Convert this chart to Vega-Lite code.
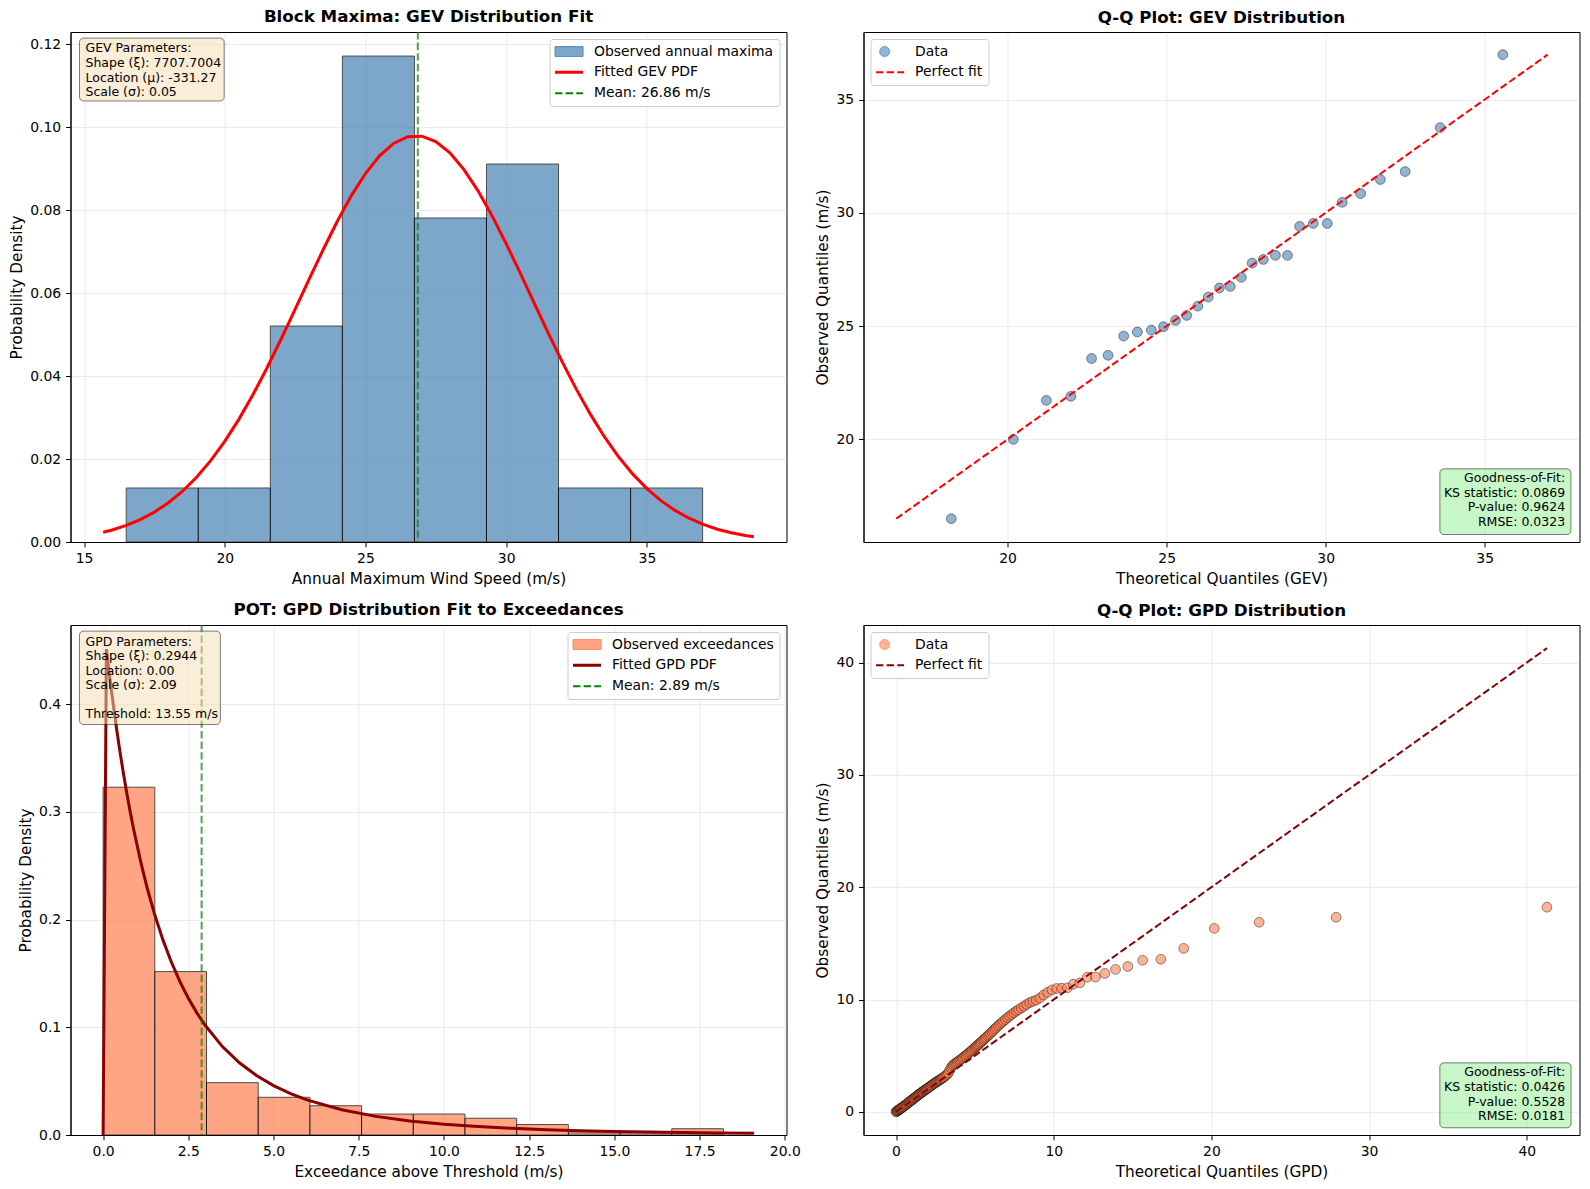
{
  "$schema": "https://vega.github.io/schema/vega-lite/v6.json",
  "background": "white",
  "padding": {"left": 8.5, "top": 8, "right": 5, "bottom": 5},
  "config": {
    "font": "DejaVu Sans",
    "view": {"stroke": "black", "strokeWidth": 1},
    "axis": {
      "labelFont": "DejaVu Sans", "labelFontSize": 13.9, "labelColor": "black",
      "titleFont": "DejaVu Sans", "titleFontSize": 15.3, "titleFontWeight": "normal", "titleColor": "black",
      "domainColor": "black", "tickColor": "black", "tickSize": 4.9, "labelPadding": 4.9, "titlePadding": 5.6,
      "gridColor": "#b0b0b0", "gridOpacity": 0.3, "gridWidth": 0.8, "labelFlush": false, "labelOverlap": false
    },
    "title": {"font": "DejaVu Sans", "fontSize": 16.7, "fontWeight": "bold", "color": "black", "offset": 5.3, "anchor": "middle"},
    "legend": {
      "labelFont": "DejaVu Sans", "labelFontSize": 13.9, "labelColor": "black", "padding": 5.6, "offset": 7,
      "fillColor": "white", "strokeColor": "#cccccc", "cornerRadius": 3, "symbolSize": 196, "rowPadding": 5.8,
      "labelOffset": 25, "labelLimit": 400
    }
  },
  "datasets": {
    "gevHist": [
      {"x0": 16.50, "x1": 19.06, "density": 0.01302},
      {"x0": 19.06, "x1": 21.62, "density": 0.01302},
      {"x0": 21.62, "x1": 24.18, "density": 0.05208},
      {"x0": 24.18, "x1": 26.74, "density": 0.11719},
      {"x0": 26.74, "x1": 29.30, "density": 0.07813},
      {"x0": 29.30, "x1": 31.86, "density": 0.09115},
      {"x0": 31.86, "x1": 34.42, "density": 0.01302},
      {"x0": 34.42, "x1": 36.98, "density": 0.01302}
    ],
    "gevPdf": [
      {"x": 15.68, "density": 0.00235}, {"x": 16.0, "density": 0.00290}, {"x": 16.5, "density": 0.00399},
      {"x": 17.0, "density": 0.00540}, {"x": 17.5, "density": 0.00720}, {"x": 18.0, "density": 0.00947},
      {"x": 18.5, "density": 0.01225}, {"x": 19.0, "density": 0.01562}, {"x": 19.5, "density": 0.01962},
      {"x": 20.0, "density": 0.02427}, {"x": 20.5, "density": 0.02958}, {"x": 21.0, "density": 0.03550},
      {"x": 21.5, "density": 0.04197}, {"x": 22.0, "density": 0.04889}, {"x": 22.5, "density": 0.05609},
      {"x": 23.0, "density": 0.06338}, {"x": 23.5, "density": 0.07054}, {"x": 24.0, "density": 0.07735},
      {"x": 24.5, "density": 0.08354}, {"x": 25.0, "density": 0.08887}, {"x": 25.5, "density": 0.09313},
      {"x": 26.0, "density": 0.09613}, {"x": 26.5, "density": 0.09774}, {"x": 27.0, "density": 0.09788},
      {"x": 27.5, "density": 0.09656}, {"x": 28.0, "density": 0.09384}, {"x": 28.5, "density": 0.08982},
      {"x": 29.0, "density": 0.08468}, {"x": 29.5, "density": 0.07865}, {"x": 30.0, "density": 0.07194},
      {"x": 30.5, "density": 0.06483}, {"x": 31.0, "density": 0.05755}, {"x": 31.5, "density": 0.05031},
      {"x": 32.0, "density": 0.04333}, {"x": 32.5, "density": 0.03675}, {"x": 33.0, "density": 0.03071},
      {"x": 33.5, "density": 0.02528}, {"x": 34.0, "density": 0.02049}, {"x": 34.5, "density": 0.01637},
      {"x": 35.0, "density": 0.01288}, {"x": 35.5, "density": 0.00998}, {"x": 36.0, "density": 0.00762},
      {"x": 36.5, "density": 0.00573}, {"x": 37.0, "density": 0.00424}, {"x": 37.5, "density": 0.00309},
      {"x": 38.0, "density": 0.00222}, {"x": 38.5, "density": 0.00157}, {"x": 38.8, "density": 0.00127}
    ],
    "gevMean": [{"mean": 26.86}],
    "gevQQ": [
      {"t": 18.23, "o": 16.50}, {"t": 20.18, "o": 20.00}, {"t": 21.22, "o": 21.72}, {"t": 21.99, "o": 21.90},
      {"t": 22.64, "o": 23.57}, {"t": 23.16, "o": 23.71}, {"t": 23.65, "o": 24.56}, {"t": 24.08, "o": 24.74},
      {"t": 24.52, "o": 24.82}, {"t": 24.90, "o": 24.97}, {"t": 25.28, "o": 25.25}, {"t": 25.63, "o": 25.47},
      {"t": 25.98, "o": 25.88}, {"t": 26.31, "o": 26.28}, {"t": 26.66, "o": 26.68}, {"t": 27.00, "o": 26.75},
      {"t": 27.35, "o": 27.15}, {"t": 27.69, "o": 27.78}, {"t": 28.04, "o": 27.94}, {"t": 28.42, "o": 28.12},
      {"t": 28.80, "o": 28.12}, {"t": 29.18, "o": 29.40}, {"t": 29.61, "o": 29.53}, {"t": 30.05, "o": 29.53},
      {"t": 30.52, "o": 30.46}, {"t": 31.10, "o": 30.85}, {"t": 31.72, "o": 31.47}, {"t": 32.50, "o": 31.82},
      {"t": 33.60, "o": 33.76}, {"t": 35.57, "o": 36.98}
    ],
    "gevLine": [{"v": 16.50}, {"v": 36.98}],
    "gpdHist": [
      {"x0": 0.0, "x1": 1.5167, "density": 0.3229},
      {"x0": 1.5167, "x1": 3.0333, "density": 0.1517},
      {"x0": 3.0333, "x1": 4.55, "density": 0.0486},
      {"x0": 4.55, "x1": 6.0667, "density": 0.0350},
      {"x0": 6.0667, "x1": 7.5833, "density": 0.0272},
      {"x0": 7.5833, "x1": 9.1, "density": 0.01945},
      {"x0": 9.1, "x1": 10.6167, "density": 0.01945},
      {"x0": 10.6167, "x1": 12.1333, "density": 0.01556},
      {"x0": 12.1333, "x1": 13.65, "density": 0.00973},
      {"x0": 13.65, "x1": 15.1667, "density": 0.00194},
      {"x0": 15.1667, "x1": 16.6833, "density": 0.00194},
      {"x0": 16.6833, "x1": 18.2, "density": 0.00584}
    ],
    "gpdPdf": [
      {"x": 0.0, "density": 0.0}, {"x": 0.096, "density": 0.4511}, {"x": 0.15, "density": 0.4365},
      {"x": 0.2, "density": 0.4235}, {"x": 0.3, "density": 0.3989}, {"x": 0.4, "density": 0.3760},
      {"x": 0.5, "density": 0.3548}, {"x": 0.6, "density": 0.3349}, {"x": 0.7, "density": 0.3164},
      {"x": 0.8, "density": 0.2992}, {"x": 0.9, "density": 0.2831}, {"x": 1.1, "density": 0.2540},
      {"x": 1.3, "density": 0.2284}, {"x": 1.5, "density": 0.2060}, {"x": 1.75, "density": 0.1816},
      {"x": 2.0, "density": 0.1607}, {"x": 2.25, "density": 0.1426}, {"x": 2.5, "density": 0.1270},
      {"x": 2.75, "density": 0.1134}, {"x": 3.0, "density": 0.1016}, {"x": 3.5, "density": 0.0821},
      {"x": 4.0, "density": 0.0671}, {"x": 4.5, "density": 0.0552}, {"x": 5.0, "density": 0.0459},
      {"x": 5.5, "density": 0.0384}, {"x": 6.0, "density": 0.0324}, {"x": 7.0, "density": 0.0234},
      {"x": 8.0, "density": 0.0173}, {"x": 9.0, "density": 0.0131}, {"x": 10.0, "density": 0.01003},
      {"x": 11.0, "density": 0.00781}, {"x": 12.0, "density": 0.00617}, {"x": 13.0, "density": 0.00493},
      {"x": 14.0, "density": 0.00398}, {"x": 15.0, "density": 0.00325}, {"x": 16.0, "density": 0.00267},
      {"x": 17.0, "density": 0.00222}, {"x": 18.0, "density": 0.00186}, {"x": 19.1, "density": 0.00154}
    ],
    "gpdMean": [{"mean": 2.89}],
    "gpdQQ": [
      {"t": 0.004, "o": 0.0}, {"t": 0.03, "o": 0.03}, {"t": 0.06, "o": 0.06}, {"t": 0.09, "o": 0.09},
      {"t": 0.12, "o": 0.12}, {"t": 0.15, "o": 0.15}, {"t": 0.18, "o": 0.18}, {"t": 0.21, "o": 0.21},
      {"t": 0.24, "o": 0.24}, {"t": 0.27, "o": 0.27}, {"t": 0.30, "o": 0.30}, {"t": 0.33, "o": 0.33},
      {"t": 0.36, "o": 0.36}, {"t": 0.40, "o": 0.40}, {"t": 0.44, "o": 0.44}, {"t": 0.48, "o": 0.48},
      {"t": 0.52, "o": 0.52}, {"t": 0.56, "o": 0.566}, {"t": 0.60, "o": 0.61}, {"t": 0.64, "o": 0.654},
      {"t": 0.68, "o": 0.698}, {"t": 0.72, "o": 0.742}, {"t": 0.76, "o": 0.786}, {"t": 0.80, "o": 0.83},
      {"t": 0.84, "o": 0.874}, {"t": 0.88, "o": 0.918}, {"t": 0.92, "o": 0.962}, {"t": 0.96, "o": 1.006},
      {"t": 1.00, "o": 1.05},
      {"t": 1.04, "o": 1.094}, {"t": 1.08, "o": 1.138}, {"t": 1.12, "o": 1.182}, {"t": 1.16, "o": 1.226},
      {"t": 1.20, "o": 1.27}, {"t": 1.24, "o": 1.314}, {"t": 1.28, "o": 1.358}, {"t": 1.32, "o": 1.402},
      {"t": 1.36, "o": 1.446}, {"t": 1.40, "o": 1.49}, {"t": 1.44, "o": 1.534}, {"t": 1.48, "o": 1.578},
      {"t": 1.52, "o": 1.62}, {"t": 1.56, "o": 1.66}, {"t": 1.60, "o": 1.70}, {"t": 1.64, "o": 1.74},
      {"t": 1.68, "o": 1.78}, {"t": 1.72, "o": 1.82}, {"t": 1.76, "o": 1.86}, {"t": 1.80, "o": 1.90},
      {"t": 1.84, "o": 1.94}, {"t": 1.88, "o": 1.98}, {"t": 1.92, "o": 2.02}, {"t": 1.96, "o": 2.06},
      {"t": 2.00, "o": 2.10},
      {"t": 2.05, "o": 2.15}, {"t": 2.10, "o": 2.20}, {"t": 2.15, "o": 2.25}, {"t": 2.20, "o": 2.30},
      {"t": 2.25, "o": 2.35}, {"t": 2.30, "o": 2.40}, {"t": 2.35, "o": 2.45}, {"t": 2.40, "o": 2.50},
      {"t": 2.45, "o": 2.55}, {"t": 2.50, "o": 2.60}, {"t": 2.55, "o": 2.645}, {"t": 2.60, "o": 2.69},
      {"t": 2.65, "o": 2.735}, {"t": 2.70, "o": 2.78}, {"t": 2.75, "o": 2.825}, {"t": 2.80, "o": 2.87},
      {"t": 2.85, "o": 2.915}, {"t": 2.90, "o": 2.96}, {"t": 2.95, "o": 3.005}, {"t": 3.00, "o": 3.05},
      {"t": 3.08, "o": 3.143}, {"t": 3.16, "o": 3.237}, {"t": 3.24, "o": 3.33}, {"t": 3.32, "o": 3.46},
      {"t": 3.40, "o": 3.70}, {"t": 3.48, "o": 3.91}, {"t": 3.56, "o": 4.07}, {"t": 3.64, "o": 4.19},
      {"t": 3.72, "o": 4.27}, {"t": 3.80, "o": 4.35}, {"t": 3.88, "o": 4.43}, {"t": 3.96, "o": 4.51},
      {"t": 4.04, "o": 4.594}, {"t": 4.12, "o": 4.682}, {"t": 4.20, "o": 4.77}, {"t": 4.28, "o": 4.858},
      {"t": 4.36, "o": 4.946}, {"t": 4.44, "o": 5.034}, {"t": 4.52, "o": 5.124}, {"t": 4.60, "o": 5.22},
      {"t": 4.68, "o": 5.316}, {"t": 4.76, "o": 5.412}, {"t": 4.84, "o": 5.508}, {"t": 4.92, "o": 5.604},
      {"t": 5.00, "o": 5.70}, {"t": 5.06, "o": 5.78}, {"t": 5.13, "o": 5.87}, {"t": 5.19, "o": 5.95},
      {"t": 5.26, "o": 6.04}, {"t": 5.34, "o": 6.14}, {"t": 5.41, "o": 6.23}, {"t": 5.49, "o": 6.34},
      {"t": 5.56, "o": 6.43}, {"t": 5.64, "o": 6.53}, {"t": 5.72, "o": 6.64}, {"t": 5.81, "o": 6.75},
      {"t": 5.89, "o": 6.86}, {"t": 5.98, "o": 6.97}, {"t": 6.08, "o": 7.11}, {"t": 6.17, "o": 7.24},
      {"t": 6.27, "o": 7.38}, {"t": 6.37, "o": 7.52}, {"t": 6.48, "o": 7.67}, {"t": 6.58, "o": 7.80},
      {"t": 6.70, "o": 7.94}, {"t": 6.81, "o": 8.07}, {"t": 6.93, "o": 8.22}, {"t": 7.06, "o": 8.37},
      {"t": 7.19, "o": 8.51}, {"t": 7.33, "o": 8.66}, {"t": 7.47, "o": 8.82}, {"t": 7.62, "o": 8.96},
      {"t": 7.77, "o": 9.09}, {"t": 7.94, "o": 9.25}, {"t": 8.11, "o": 9.40}, {"t": 8.29, "o": 9.56},
      {"t": 8.48, "o": 9.73}, {"t": 8.68, "o": 9.84}, {"t": 8.89, "o": 9.94}, {"t": 9.12, "o": 10.13},
      {"t": 9.36, "o": 10.40}, {"t": 9.61, "o": 10.64}, {"t": 9.89, "o": 10.86}, {"t": 10.19, "o": 10.98},
      {"t": 10.51, "o": 11.00}, {"t": 10.86, "o": 11.03}, {"t": 11.24, "o": 11.36}, {"t": 11.66, "o": 11.48},
      {"t": 12.12, "o": 11.98}, {"t": 12.65, "o": 12.00}, {"t": 13.24, "o": 12.32}, {"t": 13.92, "o": 12.68},
      {"t": 14.70, "o": 12.94}, {"t": 15.64, "o": 13.49}, {"t": 16.79, "o": 13.58}, {"t": 18.24, "o": 14.55},
      {"t": 20.18, "o": 16.33}, {"t": 23.03, "o": 16.88}, {"t": 27.91, "o": 17.32}, {"t": 41.28, "o": 18.22}
    ],
    "gpdLine": [{"v": 0.0}, {"v": 41.28}]
  },
  "columns": 2,
  "bounds": "flush",
  "spacing": {"row": 83, "column": 77},
  "resolve": {"scale": {"color": "independent", "x": "independent", "y": "independent"}, "legend": {"color": "independent"}},
  "concat": [
    {
      "width": 716, "height": 510,
      "title": {"text": "Block Maxima: GEV Distribution Fit"},
      "layer": [
        {
          "data": {"name": "gevHist"},
          "mark": {"type": "rect", "stroke": "black", "strokeWidth": 1, "opacity": 0.7},
          "encoding": {
            "x": {"field": "x0", "type": "quantitative", "scale": {"domain": [14.52, 39.96], "nice": false, "zero": false},
                  "axis": {"title": "Annual Maximum Wind Speed (m/s)", "values": [15, 20, 25, 30, 35], "format": "d"}},
            "x2": {"field": "x1"},
            "y": {"field": "density", "type": "quantitative", "scale": {"domain": [0, 0.123], "nice": false, "zero": false},
                  "axis": {"title": "Probability Density", "values": [0, 0.02, 0.04, 0.06, 0.08, 0.1, 0.12], "format": ".2f"}},
            "y2": {"datum": 0},
            "color": {
              "datum": "Observed annual maxima", "type": "nominal",
              "scale": {"domain": ["Observed annual maxima", "Fitted GEV PDF", "Mean: 26.86 m/s"], "range": ["#4682b4", "red", "green"]},
              "legend": {
                "title": null, "orient": "top-right",
                "encode": {"symbols": {"update": {
                  "shape": {"signal": "datum.value === 'Observed annual maxima' ? 'M-1,-0.7L3,-0.7L3,0.7L-1,0.7Z' : 'M-1,0L3,0'"},
                  "fill": {"signal": "datum.value === 'Observed annual maxima' ? 'rgba(70,130,180,0.7)' : 'transparent'"},
                  "stroke": {"signal": "datum.value === 'Observed annual maxima' ? 'rgba(0,0,0,0.7)' : (datum.value === 'Fitted GEV PDF' ? 'red' : 'rgba(0,128,0,0.7)')"},
                  "fillOpacity": {"signal": "datum.value === 'Observed annual maxima' ? 0.7 : 1"},
                  "strokeWidth": {"signal": "datum.value === 'Fitted GEV PDF' ? 3 : (datum.value === 'Observed annual maxima' ? 1 : 2)"},
                  "strokeDash": {"signal": "datum.value === 'Mean: 26.86 m/s' ? [7.4, 3.2] : [1, 0]"}
                }}}
              }
            }
          }
        },
        {
          "data": {"name": "gevPdf"},
          "mark": {"type": "line", "strokeWidth": 3},
          "encoding": {
            "x": {"field": "x", "type": "quantitative"},
            "y": {"field": "density", "type": "quantitative"},
            "color": {"datum": "Fitted GEV PDF", "type": "nominal",
              "legend": {
                "title": null, "orient": "top-right",
                "encode": {"symbols": {"update": {
                  "shape": {"signal": "datum.value === 'Observed annual maxima' ? 'M-1,-0.7L3,-0.7L3,0.7L-1,0.7Z' : 'M-1,0L3,0'"},
                  "fill": {"signal": "datum.value === 'Observed annual maxima' ? 'rgba(70,130,180,0.7)' : 'transparent'"},
                  "stroke": {"signal": "datum.value === 'Observed annual maxima' ? 'rgba(0,0,0,0.7)' : (datum.value === 'Fitted GEV PDF' ? 'red' : 'rgba(0,128,0,0.7)')"},
                  "fillOpacity": {"signal": "datum.value === 'Observed annual maxima' ? 0.7 : 1"},
                  "strokeWidth": {"signal": "datum.value === 'Fitted GEV PDF' ? 3 : (datum.value === 'Observed annual maxima' ? 1 : 2)"},
                  "strokeDash": {"signal": "datum.value === 'Mean: 26.86 m/s' ? [7.4, 3.2] : [1, 0]"}
                }}}
              }}
          }
        },
        {
          "data": {"name": "gevMean"},
          "mark": {"type": "rule", "strokeWidth": 2, "strokeDash": [7.4, 3.2], "opacity": 0.7},
          "encoding": {
            "x": {"field": "mean", "type": "quantitative"},
            "color": {"datum": "Mean: 26.86 m/s", "type": "nominal",
              "legend": {
                "title": null, "orient": "top-right",
                "encode": {"symbols": {"update": {
                  "shape": {"signal": "datum.value === 'Observed annual maxima' ? 'M-1,-0.7L3,-0.7L3,0.7L-1,0.7Z' : 'M-1,0L3,0'"},
                  "fill": {"signal": "datum.value === 'Observed annual maxima' ? 'rgba(70,130,180,0.7)' : 'transparent'"},
                  "stroke": {"signal": "datum.value === 'Observed annual maxima' ? 'rgba(0,0,0,0.7)' : (datum.value === 'Fitted GEV PDF' ? 'red' : 'rgba(0,128,0,0.7)')"},
                  "fillOpacity": {"signal": "datum.value === 'Observed annual maxima' ? 0.7 : 1"},
                  "strokeWidth": {"signal": "datum.value === 'Fitted GEV PDF' ? 3 : (datum.value === 'Observed annual maxima' ? 1 : 2)"},
                  "strokeDash": {"signal": "datum.value === 'Mean: 26.86 m/s' ? [7.4, 3.2] : [1, 0]"}
                }}}
              }}
          }
        },
        {
          "data": {"values": [{}]},
          "mark": {"type": "rect", "fill": "#F5DEB3", "fillOpacity": 0.5, "stroke": "black", "strokeOpacity": 0.5, "strokeWidth": 1, "cornerRadius": 4},
          "encoding": {
            "x": {"datum": 14.84, "type": "quantitative"}, "x2": {"datum": 19.98},
            "y": {"datum": 0.12153, "type": "quantitative"}, "y2": {"datum": 0.10636}
          }
        },
        {
          "data": {"values": [{}]},
          "mark": {"type": "text", "align": "left", "baseline": "top", "font": "DejaVu Sans", "fontSize": 12.5, "lineHeight": 14.6, "color": "black"},
          "encoding": {
            "x": {"datum": 15.053, "type": "quantitative"},
            "y": {"datum": 0.12047, "type": "quantitative"},
            "text": {"value": ["GEV Parameters:", "Shape (ξ): 7707.7004", "Location (μ): -331.27", "Scale (σ): 0.05"]}
          }
        }
      ]
    },
    {
      "width": 716, "height": 510,
      "title": {"text": "Q-Q Plot: GEV Distribution"},
      "layer": [
        {
          "data": {"name": "gevQQ"},
          "mark": {"type": "point", "filled": true, "size": 96, "opacity": 1, "fillOpacity": 0.6, "stroke": "black", "strokeWidth": 0.7, "strokeOpacity": 0.6},
          "encoding": {
            "x": {"field": "t", "type": "quantitative", "scale": {"domain": [15.47, 37.98], "nice": false, "zero": false},
                  "axis": {"title": "Theoretical Quantiles (GEV)", "values": [20, 25, 30, 35], "format": "d"}},
            "y": {"field": "o", "type": "quantitative", "scale": {"domain": [15.47, 37.98], "nice": false, "zero": false},
                  "axis": {"title": "Observed Quantiles (m/s)", "values": [20, 25, 30, 35], "format": "d"}},
            "color": {
              "datum": "Data", "type": "nominal",
              "scale": {"domain": ["Data", "Perfect fit"], "range": ["#4682b4", "red"]},
              "legend": {
                "title": null, "orient": "top-left",
                "encode": {"symbols": {"update": {
                  "shape": {"signal": "datum.value === 'Data' ? 'M0.944,0A0.714,0.714,0,1,1,-0.484,0A0.714,0.714,0,1,1,0.944,0Z' : 'M-1,0L3,0'"},
                  "fill": {"signal": "datum.value === 'Data' ? 'rgba(70,130,180,0.6)' : 'transparent'"},
                  "stroke": {"signal": "datum.value === 'Data' ? 'rgba(0,0,0,0.6)' : 'red'"},
                  "fillOpacity": {"signal": "datum.value === 'Data' ? 0.6 : 1"},
                  "strokeWidth": {"signal": "datum.value === 'Data' ? 0.7 : 2"},
                  "strokeDash": {"signal": "datum.value === 'Perfect fit' ? [7.4, 3.2] : [1, 0]"}
                }}}
              }
            }
          }
        },
        {
          "data": {"name": "gevLine"},
          "mark": {"type": "line", "strokeWidth": 2, "strokeDash": [7.4, 3.2]},
          "encoding": {
            "x": {"field": "v", "type": "quantitative"},
            "y": {"field": "v", "type": "quantitative"},
            "color": {"datum": "Perfect fit", "type": "nominal",
              "legend": {
                "title": null, "orient": "top-left",
                "encode": {"symbols": {"update": {
                  "shape": {"signal": "datum.value === 'Data' ? 'M0.944,0A0.714,0.714,0,1,1,-0.484,0A0.714,0.714,0,1,1,0.944,0Z' : 'M-1,0L3,0'"},
                  "fill": {"signal": "datum.value === 'Data' ? 'rgba(70,130,180,0.6)' : 'transparent'"},
                  "stroke": {"signal": "datum.value === 'Data' ? 'rgba(0,0,0,0.6)' : 'red'"},
                  "fillOpacity": {"signal": "datum.value === 'Data' ? 0.6 : 1"},
                  "strokeWidth": {"signal": "datum.value === 'Data' ? 0.7 : 2"},
                  "strokeDash": {"signal": "datum.value === 'Perfect fit' ? [7.4, 3.2] : [1, 0]"}
                }}}
              }}
          }
        },
        {
          "data": {"values": [{}]},
          "mark": {"type": "rect", "fill": "#90EE90", "fillOpacity": 0.5, "stroke": "black", "strokeOpacity": 0.5, "strokeWidth": 1, "cornerRadius": 4},
          "encoding": {
            "x": {"datum": 33.59, "type": "quantitative"}, "x2": {"datum": 37.71},
            "y": {"datum": 18.70, "type": "quantitative"}, "y2": {"datum": 15.80}
          }
        },
        {
          "data": {"values": [{}]},
          "mark": {"type": "text", "align": "right", "baseline": "top", "font": "DejaVu Sans", "fontSize": 12.5, "lineHeight": 14.6, "color": "black"},
          "encoding": {
            "x": {"datum": 37.529, "type": "quantitative"},
            "y": {"datum": 18.546, "type": "quantitative"},
            "text": {"value": ["Goodness-of-Fit:", "KS statistic: 0.0869", "P-value: 0.9624", "RMSE: 0.0323"]}
          }
        }
      ]
    },
    {
      "width": 716, "height": 510,
      "title": {"text": "POT: GPD Distribution Fit to Exceedances"},
      "layer": [
        {
          "data": {"name": "gpdHist"},
          "mark": {"type": "rect", "stroke": "black", "strokeWidth": 1, "opacity": 0.7},
          "encoding": {
            "x": {"field": "x0", "type": "quantitative", "scale": {"domain": [-0.957, 20.05], "nice": false, "zero": false},
                  "axis": {"title": "Exceedance above Threshold (m/s)", "values": [0, 2.5, 5, 7.5, 10, 12.5, 15, 17.5, 20], "format": ".1f"}},
            "x2": {"field": "x1"},
            "y": {"field": "density", "type": "quantitative", "scale": {"domain": [0, 0.4735], "nice": false, "zero": false},
                  "axis": {"title": "Probability Density", "values": [0, 0.1, 0.2, 0.3, 0.4], "format": ".1f"}},
            "y2": {"datum": 0},
            "color": {
              "datum": "Observed exceedances", "type": "nominal",
              "scale": {"domain": ["Observed exceedances", "Fitted GPD PDF", "Mean: 2.89 m/s"], "range": ["coral", "darkred", "green"]},
              "legend": {
                "title": null, "orient": "top-right",
                "encode": {"symbols": {"update": {
                  "shape": {"signal": "datum.value === 'Observed exceedances' ? 'M-1,-0.7L3,-0.7L3,0.7L-1,0.7Z' : 'M-1,0L3,0'"},
                  "fill": {"signal": "datum.value === 'Observed exceedances' ? 'rgba(255,127,80,0.7)' : 'transparent'"},
                  "stroke": {"signal": "datum.value === 'Observed exceedances' ? 'rgba(0,0,0,0.7)' : (datum.value === 'Fitted GPD PDF' ? 'darkred' : 'rgba(0,128,0,0.7)')"},
                  "fillOpacity": {"signal": "datum.value === 'Observed exceedances' ? 0.7 : 1"},
                  "strokeWidth": {"signal": "datum.value === 'Fitted GPD PDF' ? 3 : (datum.value === 'Observed exceedances' ? 1 : 2)"},
                  "strokeDash": {"signal": "datum.value === 'Mean: 2.89 m/s' ? [7.4, 3.2] : [1, 0]"}
                }}}
              }
            }
          }
        },
        {
          "data": {"name": "gpdPdf"},
          "mark": {"type": "line", "strokeWidth": 3},
          "encoding": {
            "x": {"field": "x", "type": "quantitative"},
            "y": {"field": "density", "type": "quantitative"},
            "color": {"datum": "Fitted GPD PDF", "type": "nominal",
              "legend": {
                "title": null, "orient": "top-right",
                "encode": {"symbols": {"update": {
                  "shape": {"signal": "datum.value === 'Observed exceedances' ? 'M-1,-0.7L3,-0.7L3,0.7L-1,0.7Z' : 'M-1,0L3,0'"},
                  "fill": {"signal": "datum.value === 'Observed exceedances' ? 'rgba(255,127,80,0.7)' : 'transparent'"},
                  "stroke": {"signal": "datum.value === 'Observed exceedances' ? 'rgba(0,0,0,0.7)' : (datum.value === 'Fitted GPD PDF' ? 'darkred' : 'rgba(0,128,0,0.7)')"},
                  "fillOpacity": {"signal": "datum.value === 'Observed exceedances' ? 0.7 : 1"},
                  "strokeWidth": {"signal": "datum.value === 'Fitted GPD PDF' ? 3 : (datum.value === 'Observed exceedances' ? 1 : 2)"},
                  "strokeDash": {"signal": "datum.value === 'Mean: 2.89 m/s' ? [7.4, 3.2] : [1, 0]"}
                }}}
              }}
          }
        },
        {
          "data": {"name": "gpdMean"},
          "mark": {"type": "rule", "strokeWidth": 2, "strokeDash": [7.4, 3.2], "opacity": 0.7},
          "encoding": {
            "x": {"field": "mean", "type": "quantitative"},
            "color": {"datum": "Mean: 2.89 m/s", "type": "nominal",
              "legend": {
                "title": null, "orient": "top-right",
                "encode": {"symbols": {"update": {
                  "shape": {"signal": "datum.value === 'Observed exceedances' ? 'M-1,-0.7L3,-0.7L3,0.7L-1,0.7Z' : 'M-1,0L3,0'"},
                  "fill": {"signal": "datum.value === 'Observed exceedances' ? 'rgba(255,127,80,0.7)' : 'transparent'"},
                  "stroke": {"signal": "datum.value === 'Observed exceedances' ? 'rgba(0,0,0,0.7)' : (datum.value === 'Fitted GPD PDF' ? 'darkred' : 'rgba(0,128,0,0.7)')"},
                  "fillOpacity": {"signal": "datum.value === 'Observed exceedances' ? 0.7 : 1"},
                  "strokeWidth": {"signal": "datum.value === 'Fitted GPD PDF' ? 3 : (datum.value === 'Observed exceedances' ? 1 : 2)"},
                  "strokeDash": {"signal": "datum.value === 'Mean: 2.89 m/s' ? [7.4, 3.2] : [1, 0]"}
                }}}
              }}
          }
        },
        {
          "data": {"values": [{}]},
          "mark": {"type": "rect", "fill": "#F5DEB3", "fillOpacity": 0.5, "stroke": "black", "strokeOpacity": 0.5, "strokeWidth": 1, "cornerRadius": 4},
          "encoding": {
            "x": {"datum": -0.693, "type": "quantitative"}, "x2": {"datum": 3.441},
            "y": {"datum": 0.46784, "type": "quantitative"}, "y2": {"datum": 0.3811}
          }
        },
        {
          "data": {"values": [{}]},
          "mark": {"type": "text", "align": "left", "baseline": "top", "font": "DejaVu Sans", "fontSize": 12.5, "lineHeight": 14.6, "color": "black"},
          "encoding": {
            "x": {"datum": -0.517, "type": "quantitative"},
            "y": {"datum": 0.46375, "type": "quantitative"},
            "text": {"value": ["GPD Parameters:", "Shape (ξ): 0.2944", "Location: 0.00", "Scale (σ): 2.09"]}
          }
        },
        {
          "data": {"values": [{}]},
          "mark": {"type": "text", "align": "left", "baseline": "top", "font": "DejaVu Sans", "fontSize": 12.5, "color": "black"},
          "encoding": {
            "x": {"datum": -0.517, "type": "quantitative"},
            "y": {"datum": 0.39598, "type": "quantitative"},
            "text": {"value": "Threshold: 13.55 m/s"}
          }
        }
      ]
    },
    {
      "width": 716, "height": 510,
      "title": {"text": "Q-Q Plot: GPD Distribution"},
      "layer": [
        {
          "data": {"name": "gpdQQ"},
          "mark": {"type": "point", "filled": true, "size": 96, "opacity": 1, "fillOpacity": 0.6, "stroke": "black", "strokeWidth": 0.7, "strokeOpacity": 0.6},
          "encoding": {
            "x": {"field": "t", "type": "quantitative", "scale": {"domain": [-2.064, 43.344], "nice": false, "zero": false},
                  "axis": {"title": "Theoretical Quantiles (GPD)", "values": [0, 10, 20, 30, 40], "format": "d"}},
            "y": {"field": "o", "type": "quantitative", "scale": {"domain": [-2.064, 43.344], "nice": false, "zero": false},
                  "axis": {"title": "Observed Quantiles (m/s)", "values": [0, 10, 20, 30, 40], "format": "d"}},
            "color": {
              "datum": "Data", "type": "nominal",
              "scale": {"domain": ["Data", "Perfect fit"], "range": ["coral", "darkred"]},
              "legend": {
                "title": null, "orient": "top-left",
                "encode": {"symbols": {"update": {
                  "shape": {"signal": "datum.value === 'Data' ? 'M0.944,0A0.714,0.714,0,1,1,-0.484,0A0.714,0.714,0,1,1,0.944,0Z' : 'M-1,0L3,0'"},
                  "fill": {"signal": "datum.value === 'Data' ? 'rgba(255,127,80,0.6)' : 'transparent'"},
                  "stroke": {"signal": "datum.value === 'Data' ? 'rgba(0,0,0,0.6)' : 'darkred'"},
                  "fillOpacity": {"signal": "datum.value === 'Data' ? 0.6 : 1"},
                  "strokeWidth": {"signal": "datum.value === 'Data' ? 0.7 : 2"},
                  "strokeDash": {"signal": "datum.value === 'Perfect fit' ? [7.4, 3.2] : [1, 0]"}
                }}}
              }
            }
          }
        },
        {
          "data": {"name": "gpdLine"},
          "mark": {"type": "line", "strokeWidth": 2, "strokeDash": [7.4, 3.2]},
          "encoding": {
            "x": {"field": "v", "type": "quantitative"},
            "y": {"field": "v", "type": "quantitative"},
            "color": {"datum": "Perfect fit", "type": "nominal",
              "legend": {
                "title": null, "orient": "top-left",
                "encode": {"symbols": {"update": {
                  "shape": {"signal": "datum.value === 'Data' ? 'M0.944,0A0.714,0.714,0,1,1,-0.484,0A0.714,0.714,0,1,1,0.944,0Z' : 'M-1,0L3,0'"},
                  "fill": {"signal": "datum.value === 'Data' ? 'rgba(255,127,80,0.6)' : 'transparent'"},
                  "stroke": {"signal": "datum.value === 'Data' ? 'rgba(0,0,0,0.6)' : 'darkred'"},
                  "fillOpacity": {"signal": "datum.value === 'Data' ? 0.6 : 1"},
                  "strokeWidth": {"signal": "datum.value === 'Data' ? 0.7 : 2"},
                  "strokeDash": {"signal": "datum.value === 'Perfect fit' ? [7.4, 3.2] : [1, 0]"}
                }}}
              }}
          }
        },
        {
          "data": {"values": [{}]},
          "mark": {"type": "rect", "fill": "#90EE90", "fillOpacity": 0.5, "stroke": "black", "strokeOpacity": 0.5, "strokeWidth": 1, "cornerRadius": 4},
          "encoding": {
            "x": {"datum": 34.487, "type": "quantitative"}, "x2": {"datum": 42.808},
            "y": {"datum": 4.36, "type": "quantitative"}, "y2": {"datum": -1.42}
          }
        },
        {
          "data": {"values": [{}]},
          "mark": {"type": "text", "align": "right", "baseline": "top", "font": "DejaVu Sans", "fontSize": 12.5, "lineHeight": 14.6, "color": "black"},
          "encoding": {
            "x": {"datum": 42.441, "type": "quantitative"},
            "y": {"datum": 4.05, "type": "quantitative"},
            "text": {"value": ["Goodness-of-Fit:", "KS statistic: 0.0426", "P-value: 0.5528", "RMSE: 0.0181"]}
          }
        }
      ]
    }
  ]
}
